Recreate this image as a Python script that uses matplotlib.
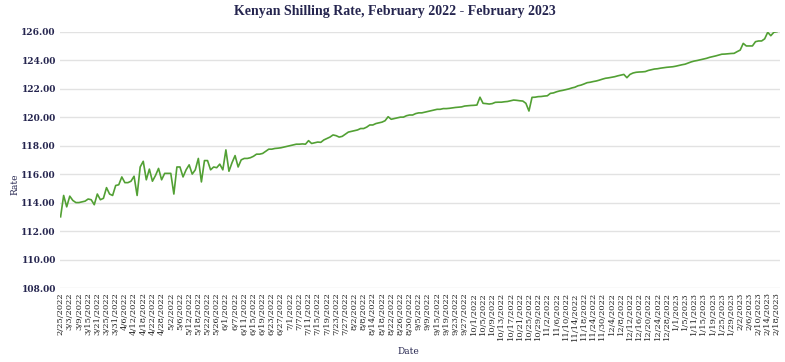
import matplotlib
matplotlib.use("Agg")
import matplotlib.pyplot as plt
import numpy as np

tick_labels = [
    "2/25/2022", "3/3/2022", "3/9/2022", "3/15/2022", "3/21/2022", "3/25/2022", "3/31/2022",
    "4/6/2022", "4/12/2022", "4/18/2022", "4/22/2022", "4/28/2022", "5/2/2022", "5/6/2022",
    "5/12/2022", "5/18/2022", "5/22/2022", "5/26/2022", "6/1/2022", "6/7/2022", "6/11/2022",
    "6/15/2022", "6/19/2022", "6/23/2022", "6/27/2022", "7/1/2022", "7/7/2022", "7/11/2022",
    "7/15/2022", "7/19/2022", "7/23/2022", "7/27/2022", "8/2/2022", "8/8/2022", "8/14/2022",
    "8/18/2022", "8/22/2022", "8/26/2022", "8/30/2022", "9/5/2022", "9/9/2022", "9/15/2022",
    "9/19/2022", "9/23/2022", "9/27/2022", "10/1/2022", "10/5/2022", "10/9/2022", "10/13/2022",
    "10/17/2022", "10/21/2022", "10/25/2022", "10/29/2022", "11/2/2022", "11/6/2022",
    "11/10/2022", "11/14/2022", "11/18/2022", "11/24/2022", "11/30/2022", "12/4/2022",
    "12/8/2022", "12/12/2022", "12/16/2022", "12/20/2022", "12/24/2022", "12/28/2022",
    "1/1/2023", "1/5/2023", "1/11/2023", "1/15/2023", "1/19/2023", "1/25/2023", "1/29/2023",
    "2/2/2023", "2/6/2023", "2/10/2023", "2/14/2023", "2/18/2023",
]

rate = [
    113.0, 114.5, 113.7, 114.45, 114.15, 114.0, 114.0, 114.05, 114.1, 114.25,
    114.2, 113.85, 114.6, 114.2, 114.3, 115.05, 114.6, 114.5, 115.2, 115.25,
    115.8, 115.4, 115.4, 115.5, 115.85, 114.5, 116.5, 116.9, 115.6, 116.35,
    115.5, 115.9, 116.4, 115.6, 116.05, 116.05, 116.05, 114.6, 116.5, 116.5,
    115.8, 116.3, 116.65, 116.0, 116.3, 117.1, 115.45, 116.95, 116.95, 116.3,
    116.5, 116.45, 116.7, 116.3, 117.7, 116.2, 116.8, 117.3, 116.5, 117.0,
    117.1, 117.1, 117.15, 117.25, 117.4, 117.4, 117.45, 117.6, 117.75, 117.75,
    117.8, 117.82, 117.85, 117.9, 117.95, 118.0, 118.05, 118.1, 118.1, 118.12,
    118.1, 118.35, 118.15, 118.2, 118.25, 118.23, 118.4, 118.5, 118.6, 118.75,
    118.7, 118.6, 118.65, 118.8, 118.95, 119.0, 119.05, 119.1, 119.2, 119.2,
    119.3, 119.45, 119.45, 119.55, 119.6, 119.65, 119.75, 120.03, 119.85, 119.9,
    119.95, 120.0, 120.0, 120.1, 120.15, 120.15, 120.25, 120.3, 120.3, 120.35,
    120.4, 120.45, 120.5, 120.55, 120.55, 120.6, 120.6, 120.62, 120.65, 120.68,
    120.7, 120.72, 120.78, 120.8, 120.82, 120.83, 120.85, 121.4, 120.97, 120.95,
    120.92, 120.95, 121.04, 121.05, 121.05, 121.08, 121.1, 121.15, 121.2, 121.18,
    121.15, 121.13, 120.97, 120.43, 121.39, 121.4, 121.44, 121.45, 121.48, 121.5,
    121.67, 121.7, 121.78, 121.84, 121.88, 121.93, 121.98, 122.05, 122.1, 122.2,
    122.25, 122.33, 122.42, 122.45, 122.5, 122.54, 122.6, 122.67, 122.73, 122.76,
    122.8, 122.84, 122.9, 122.95, 123.0, 122.77, 123.0, 123.1, 123.15, 123.17,
    123.18, 123.2, 123.28, 123.33, 123.38, 123.4, 123.44, 123.47, 123.5, 123.52,
    123.54, 123.58, 123.63, 123.68, 123.72, 123.8, 123.88, 123.94, 123.98, 124.03,
    124.08, 124.13, 124.2, 124.25, 124.3, 124.36, 124.42, 124.43, 124.45, 124.47,
    124.48, 124.6, 124.71, 125.18, 125.0, 125.0, 125.0, 125.3, 125.35, 125.35,
    125.5, 125.96, 125.72, 125.96, 126.0,
]

y_ticks = [108, 110, 112, 114, 116, 118, 120, 122, 124, 126]
points_per_label = 3

serif = ["DejaVu Serif"]
navy = "#25254f"

fig = plt.figure(figsize=(7.85, 3.62), dpi=100)
ax = fig.add_axes([0.0764, 0.2044, 0.9172, 0.708])

x = np.arange(len(rate))
ax.plot(x, rate, color="#52a034", linewidth=1.2, zorder=3)

ax.set_ylim(108, 126)
ax.set_xlim(-0.2, len(rate))
ax.set_yticks(y_ticks)
ax.set_yticklabels([f"{v:.2f}" for v in y_ticks], fontsize=6.5, color=navy, family=serif,
                   fontweight="bold")
tick_pos = np.arange(len(tick_labels)) * points_per_label
ax.set_xticks(tick_pos)
ax.set_xticklabels(tick_labels, rotation=90, fontsize=6, color="#222222", family=serif)
ax.tick_params(axis="both", length=0, pad=3)
ax.grid(axis="y", color="#e2e2e2", linewidth=1.0)
for s in ax.spines.values():
    s.set_visible(False)

fig.text(0.019, 0.49, "Rate", rotation=90, ha="center", va="center", fontsize=6.5,
         color=navy, family=serif)
fig.text(0.52, 0.028, "Date", ha="center", va="center", fontsize=6.5, color=navy, family=serif)
fig.text(0.503, 0.968, "Kenyan Shilling Rate, February 2022 - February 2023", ha="center",
         va="center", fontsize=10, color=navy, family=["Liberation Serif"], fontweight="bold")

fig.savefig("out.png", dpi=100)
